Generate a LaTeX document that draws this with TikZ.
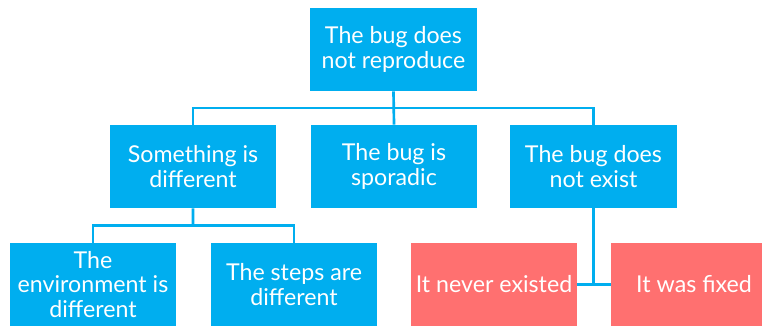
\documentclass[tikz,border=0pt]{standalone}
\usepackage{fontspec}
\setmainfont{Lato}
\usepackage{tikz}
\usetikzlibrary{calc}

\definecolor{bugblue}{RGB}{0,174,239}
\definecolor{bugred}{RGB}{255,112,112}

\begin{document}
\begin{tikzpicture}[x=0.025cm, y=-0.025cm,
    box/.style={fill=bugblue, text=white, minimum width=4.15cm, minimum height=2.075cm,
                align=center, inner sep=2pt, font=\fontsize{16.5}{17.7}\selectfont},
    redbox/.style={box, fill=bugred},
    link/.style={draw=bugblue, line width=1.9pt}]

    % 1. 画布大小
    \clip (0,0) rectangle (762,327);

    % 2. 三层节点
    \node[box] (top)   at (393.5, 49.5) {The bug does\\not reproduce};
    \node[box] (diff)  at (193, 166.5)  {Something is\\different};
    \node[box] (spor)  at (394, 166.5)  {The bug is\\sporadic};
    \node[box] (exist) at (593.5, 166.5) {The bug does\\not exist};
    \node[box] (env)   at (93, 284.5)   {The\\environment is\\different};
    \node[box] (steps) at (294, 284.5)  {The steps are\\different};
    \node[redbox] (never) at (494, 284.5) {It never existed};
    \node[redbox] (fixed) at (694, 284.5) {It was fixed};

    % 3. 分叉点
    \coordinate (split1) at ($(top.south)!0.5!(spor.north)$);
    \coordinate (split2) at ($(diff.south)!0.5!(diff.south |- env.north)$);

    % 4. 连线
    \draw[link] (top.south) -- (spor.north);
    \draw[link] (diff.north) |- (split1) -| (exist.north);
    \draw[link] (diff.south) -- (split2);
    \draw[link] (env.north) |- (split2) -| (steps.north);
    \draw[link] (exist.south) |- (never.east);
    \draw[link] (never.east) -- (fixed.west);

\end{tikzpicture}
\end{document}
